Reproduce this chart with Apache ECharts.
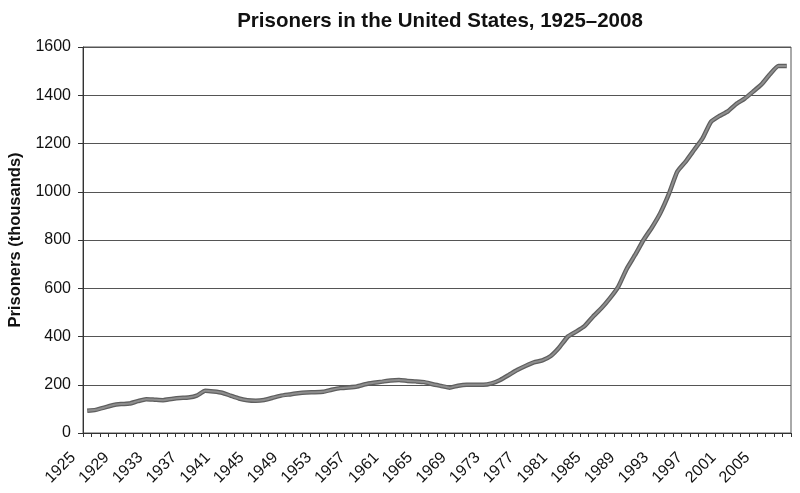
<!DOCTYPE html>
<html>
<head>
<meta charset="utf-8">
<script src="https://cdn.jsdelivr.net/npm/echarts@6/dist/echarts.min.js"></script>
<style>
html,body{margin:0;padding:0;background:#fff;}
#chart{width:800px;height:493px;}
</style>
</head>
<body>
<div id="chart"></div>
<script>
var years = [];
for (var y = 1925; y <= 2008; y++) years.push(String(y));

var prisoners = [
  92, 96, 105, 115, 120, 122, 132, 140, 138, 136,
  141, 145, 147, 155, 175, 172, 167, 155, 143, 136,
  134, 137, 146, 155, 160, 165, 168, 169, 171, 179,
  186, 189, 193, 202, 208, 213, 218, 220, 216, 214,
  211, 202, 195, 188, 196, 200, 200, 200, 206, 220,
  240, 261, 278, 293, 301, 319, 354, 399, 420, 443,
  482, 517, 558, 606, 680, 738, 800, 852, 912, 990,
  1083, 1125, 1173, 1221, 1290, 1314, 1333, 1364, 1386, 1415,
  1445, 1487, 1521, 1521
];

var yTicks = [0, 200, 400, 600, 800, 1000, 1200, 1400, 1600];

var chart = echarts.init(document.getElementById('chart'), null, {renderer: 'canvas'});
var font = 'Liberation Sans, Arial, Helvetica, sans-serif';

chart.setOption({
  animation: false,
  backgroundColor: '#ffffff',
  title: {
    text: 'Prisoners in the United States, 1925\u20132008',
    left: 435,
    textAlign: 'center',
    top: 6,
    textStyle: {fontFamily: font, fontWeight: 'bold', fontSize: 20.5, color: '#111'}
  },
  grid: {
    left: 83, right: 9, top: 47, bottom: 60,
    containLabel: false, outerBoundsMode: 'none',
    show: true, borderColor: '#555', borderWidth: 1
  },
  xAxis: {
    type: 'category',
    data: years,
    boundaryGap: true,
    axisLine: {show: true, lineStyle: {color: '#333', width: 1}},
    axisTick: {show: true, interval: 0, length: 4, lineStyle: {color: '#333'}},
    axisLabel: {
      interval: 3, rotate: 45, margin: 8, padding: [0, 20, 0, 0],
      fontFamily: font, fontSize: 16, color: '#111'
    },
    splitLine: {show: false}
  },
  yAxis: {
    type: 'value',
    min: yTicks[0], max: yTicks[yTicks.length - 1], interval: 200,
    name: 'Prisoners (thousands)',
    nameLocation: 'middle',
    nameGap: 59,
    nameTextStyle: {fontFamily: font, fontWeight: 'bold', fontSize: 16.5, color: '#111'},
    axisLine: {show: true, lineStyle: {color: '#333', width: 1}},
    axisTick: {show: true, length: 5, lineStyle: {color: '#333'}},
    axisLabel: {
      margin: 12, fontFamily: font, fontSize: 16, color: '#111',
      formatter: function (v) { return String(v); }
    },
    splitLine: {show: true, lineStyle: {color: '#555', width: 1}}
  },
  series: [
    {
      type: 'line', data: prisoners, symbol: 'none', smooth: 0.15,
      lineStyle: {color: '#5f5f5f', width: 4.5}, z: 2
    },
    {
      type: 'line', data: prisoners, symbol: 'none', smooth: 0.15,
      lineStyle: {color: '#8e8e8e', width: 2}, z: 3
    }
  ]
});
</script>
</body>
</html>
